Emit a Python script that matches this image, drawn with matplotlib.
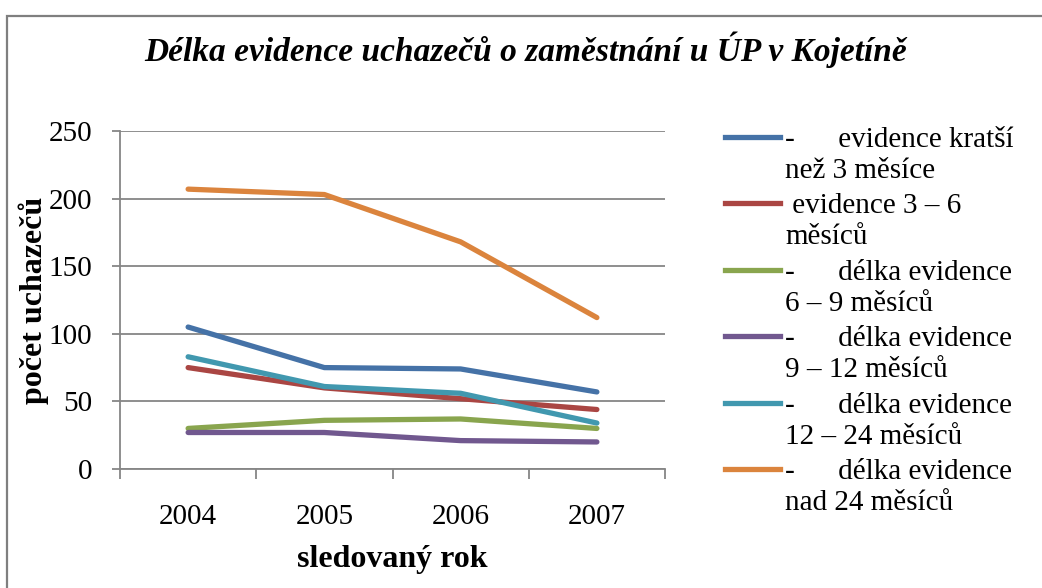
import matplotlib.pyplot as plt
from matplotlib.lines import Line2D
from matplotlib.patches import Rectangle

plt.rcParams['font.family'] = ['Liberation Serif', 'DejaVu Serif']

years = ['2004', '2005', '2006', '2007']
kratsi_3 = [105, 75, 74, 57]
m3_6 = [75, 60, 52, 44]
m6_9 = [30, 36, 37, 30]
m9_12 = [27, 27, 21, 20]
m12_24 = [83, 61, 56, 34]
nad_24 = [207, 203, 168, 112]

labels = ['-      evidence kratší\nnež 3 měsíce',
          ' evidence 3 – 6\nměsíců',
          '-      délka evidence\n6 – 9 měsíců',
          '-      délka evidence\n9 – 12 měsíců',
          '-      délka evidence\n12 – 24 měsíců',
          '-      délka evidence\nnad 24 měsíců']
series = [kratsi_3, m3_6, m6_9, m9_12, m12_24, nad_24]
colors = ['#4572A7', '#AA4643', '#89A54E', '#71588F', '#4198AF', '#DB843D']

W, H = 1042, 588
fig = plt.figure(figsize=(W / 100, H / 100), dpi=100)
fig.add_artist(Rectangle((7 / W, -0.1), 1.2, 1 - 16 / H + 0.1, transform=fig.transFigure,
                         fill=False, edgecolor='#7f7f7f', lw=1.6))

ax = fig.add_axes([120 / W, 1 - 469 / H, 545 / W, 338 / H])
x = range(len(years))
for vals, c in zip(series, colors):
    ax.plot(x, vals, color=c, lw=3.8, solid_capstyle='round')

ax.set_xlim(-0.5, 3.5)
ax.set_ylim(0, 250)
ax.set_yticks([0, 50, 100, 150, 200, 250])
ax.yaxis.grid(True, color='#868686', lw=1.3)
ax.set_axisbelow(True)
for s in ['top', 'right']:
    ax.spines[s].set_visible(False)
for s in ['left', 'bottom']:
    ax.spines[s].set_color('#868686')
    ax.spines[s].set_linewidth(1.3)
ax.set_xticks(list(x))
ax.set_xticklabels(years)
ax.set_xticks([-0.5, 0.5, 1.5, 2.5, 3.5], minor=True)
ax.tick_params(axis='x', which='major', length=0, pad=25, labelsize=21)
ax.tick_params(axis='x', which='minor', length=7, color='#868686', width=1.3)
ax.tick_params(axis='y', length=6, color='#868686', width=1.3, pad=14, labelsize=21)

fig.text(526 / W, 1 - 50 / H, 'Délka evidence uchazečů o zaměstnání u ÚP v Kojetíně',
         ha='center', va='center', fontsize=24, fontweight='bold', fontstyle='italic')
fig.text(392 / W, 1 - 560 / H, 'sledovaný rok', ha='center', va='center',
         fontsize=23, fontweight='bold')
fig.text(34 / W, 1 - 300 / H, 'počet uchazečů', ha='center', va='center',
         rotation=90, fontsize=23, fontweight='bold')

# legend drawn by hand so the line sits on the first text row
for i, (lab, c) in enumerate(zip(labels, colors)):
    y0 = 137 + i * 66.4
    fig.add_artist(Line2D([725 / W, 780 / W], [1 - y0 / H, 1 - y0 / H],
                          color=c, lw=3.8, transform=fig.transFigure))
    fig.text(785 / W, 1 - (y0 - 10) / H, lab, ha='left', va='top', fontsize=21,
             linespacing=1.25)

fig.savefig('out.png', dpi=100)
